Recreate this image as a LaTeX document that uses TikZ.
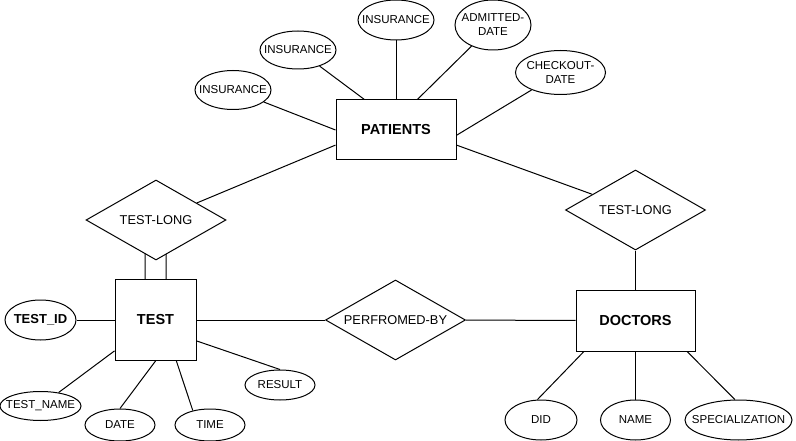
\documentclass[tikz,border=0pt]{standalone}
\usepackage{fontspec}
\setmainfont{Liberation Sans}
\usetikzlibrary{shapes.geometric,backgrounds}

\begin{document}
\begin{tikzpicture}[
  x=1pt, y=-1pt,
  line width=1pt,
  enode/.style={draw,rectangle,inner sep=0pt,font=\fontsize{14.5}{17}\selectfont\bfseries},
  rnode/.style={draw,diamond,shape aspect=1.75,minimum width=140pt,minimum height=80pt,inner sep=0pt,fill=white,font=\fontsize{12.8}{15}\selectfont},
  anode/.style={draw,ellipse,inner xsep=-2em,inner ysep=0pt,minimum width=70pt,minimum height=40pt,align=center,font=\fontsize{11.5}{14}\selectfont}
]
  \useasboundingbox (0,0) rectangle (796,441);

  % entities
  \node[enode,minimum width=120pt,minimum height=60pt] (pat) at (396,130) {PATIENTS};
  \node[enode,minimum width=81pt,minimum height=81pt] (test) at (155.5,320) {TEST};
  \node[enode,minimum width=119pt,minimum height=61pt] (doc) at (635.5,320.5) {DOCTORS};

  % relations
  \node[rnode] (tl1) at (156,220) {TEST-LONG};
  \node[rnode] (tl2) at (635.5,210) {TEST-LONG};
  \node[rnode] (pb) at (395.5,320) {PERFROMED-BY};

  % attributes of patients
  \node[anode,minimum width=76pt,minimum height=39pt] (ins1) at (233,90) {INSURANCE};
  \node[anode,minimum width=76pt,minimum height=38pt] (ins2) at (298,50) {INSURANCE};
  \node[anode,minimum width=76pt] (ins3) at (396,20) {INSURANCE};
  \node[anode,minimum width=76pt,minimum height=50pt] (adm) at (493,25) {ADMITTED-\\DATE};
  \node[anode,minimum width=90pt,minimum height=44pt] (chk) at (560.5,72.5) {CHECKOUT-\\DATE};

  % attributes of test
  \node[anode,minimum width=71pt,font=\fontsize{13}{15}\selectfont\bfseries] (tid) at (40.5,320) {TEST\_ID};
  \node[anode,minimum width=81pt,minimum height=29pt] (tnm) at (40.5,406) {TEST\_NAME};
  \node[anode,minimum height=32pt] (dat) at (120,425) {DATE};
  \node[anode,minimum height=32pt] (tim) at (210,425) {TIME};
  \node[anode,minimum height=30pt] (res) at (280,385) {RESULT};

  % attributes of doctors
  \node[anode,minimum width=72pt] (did) at (541,420) {DID};
  \node[anode] (nam) at (635.5,420) {NAME};
  \node[anode,minimum width=107pt] (spc) at (738.5,420) {SPECIALIZATION};

  % edges
  \draw (ins1) -- (pat.west);
  \draw (ins2) -- (pat.136);
  \draw (ins3) -- (pat);
  \draw (adm) -- (pat.55);
  \draw (chk) -- (pat.-5);
  \draw (pat.194) -- (tl1);
  \draw (pat.-14) -- (tl2);
  \draw (tl2) -- (doc);
  \draw (test) -- (pb);
  \draw (pb) -- (doc);
  \draw (tid) -- (test);
  \draw (tnm) -- (test.217);
  \draw (dat.north) -- (test.south);
  \draw (tim.140) -- (test.-63);
  \draw (test.-27) -- (res.north);
  \draw (doc.211) -- (did.100);
  \draw (doc) -- (nam);
  \draw (doc.-31) -- (spc.100);

  % double line, behind the diamond
  \begin{scope}[on background layer]
    \draw[line width=1pt] ([xshift=-10.5pt]tl1.center) -- ([xshift=-10.5pt]test.north);
    \draw[line width=1pt] ([xshift=10.5pt]tl1.center) -- ([xshift=10.5pt]test.north);
  \end{scope}
\end{tikzpicture}
\end{document}
